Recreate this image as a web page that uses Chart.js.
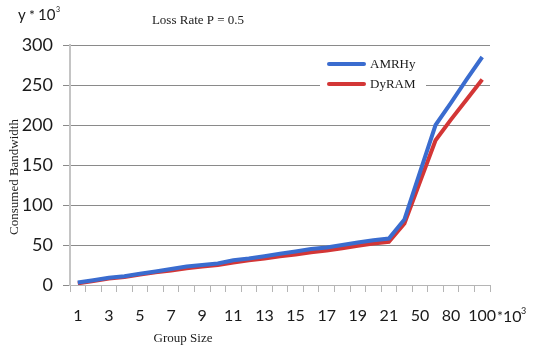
<!DOCTYPE html>
<html>
<head>
<meta charset="utf-8">
<script src="https://cdn.jsdelivr.net/npm/chart.js@4/dist/chart.umd.min.js"></script>
<style>
  html, body { margin: 0; padding: 0; background: #fff; }
  #wrap { position: relative; width: 534px; height: 351px; }
</style>
</head>
<body>
<div id="wrap"><canvas id="chart" width="534" height="351"></canvas></div>
<script>
// group sizes (x 10^3); only every other one gets a label
const groupSizes = ["1", "2", "3", "4", "5", "6", "7", "8", "9", "10", "11", "12", "13", "14",
  "15", "16", "17", "18", "19", "20", "21", "30", "50", "60", "80", "90", "100"];
const amrhy = [3, 6, 9, 11, 14, 17, 20, 23, 25, 27, 31, 33, 36, 39, 42, 45, 47, 50, 53, 56, 58,
  82, 141, 200, 228, 257, 285];
const dyram = [2, 5, 8, 10, 13, 16, 18, 21, 23, 25, 28, 31, 33, 36, 38, 41, 43, 46, 49, 52, 54,
  77, 129, 181, 207, 232, 257];
const yTicks = [0, 50, 100, 150, 200, 250, 300];

const serif = '"Liberation Serif", "DejaVu Serif", serif';
const sans = 'Lato, "Open Sans", sans-serif';
const ink = "#1a1a1a";

// extra texts and the boxed legend, drawn straight onto the canvas
const decorations = {
  id: "decorations",
  afterDraw(chart) {
    const ctx = chart.ctx;
    const area = chart.chartArea;
    ctx.save();
    ctx.fillStyle = ink;
    ctx.textBaseline = "middle";

    // y unit
    ctx.textAlign = "left";
    ctx.font = "15px " + sans;
    ctx.fillText("y", 18, 15);
    ctx.font = "14px " + sans;
    ctx.fillText("*", 29, 15);
    ctx.font = "15px " + sans;
    ctx.fillText("10", 38, 15);
    ctx.font = "7px " + sans;
    ctx.fillText("3", 56, 10);

    // title
    ctx.font = "13px " + serif;
    ctx.textAlign = "center";
    ctx.fillText("Loss Rate P = 0.5", 198, 21);

    // axis titles
    ctx.fillText("Group Size", 183, 339);
    ctx.save();
    ctx.translate(15, 177);
    ctx.rotate(-Math.PI / 2);
    ctx.fillText("Consumed Bandwidth", 0, 0);
    ctx.restore();

    // x unit after the last tick label
    ctx.textAlign = "left";
    ctx.font = "14px " + sans;
    ctx.fillText("*", area.right + 7, 316);
    ctx.font = "16px " + sans;
    ctx.fillText("10", area.right + 13, 317);
    ctx.font = "9px " + sans;
    ctx.fillText("3", area.right + 31, 311);

    // legend
    ctx.fillStyle = "#fff";
    ctx.fillRect(320, 54, 106, 42);
    ctx.font = "13px " + serif;
    ctx.lineCap = "round";
    chart.data.datasets.forEach((ds, i) => {
      const y = 64 + i * 20;
      ctx.strokeStyle = ds.borderColor;
      ctx.lineWidth = 4;
      ctx.beginPath();
      ctx.moveTo(329, y);
      ctx.lineTo(364, y);
      ctx.stroke();
      ctx.fillStyle = ink;
      ctx.fillText(ds.label, 370, y + 1);
    });
    ctx.restore();
  }
};

new Chart(document.getElementById("chart"), {
  type: "line",
  data: {
    labels: groupSizes,
    datasets: [
      {
        label: "AMRHy",
        data: amrhy,
        borderColor: "#3a6ccf",
        borderWidth: 4,
        pointRadius: 0,
        tension: 0
      },
      {
        label: "DyRAM",
        data: dyram,
        borderColor: "#d33636",
        borderWidth: 4,
        pointRadius: 0,
        tension: 0
      }
    ]
  },
  options: {
    responsive: false,
    animation: false,
    devicePixelRatio: 1,
    layout: { padding: { left: 0, right: 44, top: 45, bottom: 0 } },
    plugins: {
      legend: { display: false },
      tooltip: { enabled: false }
    },
    scales: {
      x: {
        type: "category",
        offset: true,
        afterFit: (scale) => { scale.height = 66; },
        grid: {
          offset: true,
          drawOnChartArea: false,
          color: "#b5b5b5",
          tickLength: 7
        },
        border: { color: "#b5b5b5", width: 1 },
        ticks: {
          autoSkip: false,
          maxRotation: 0,
          padding: 14,
          color: ink,
          font: { family: sans, size: 16 },
          callback: (val, i) => (i % 2 === 0 ? groupSizes[i] : "")
        }
      },
      y: {
        min: 0,
        max: 300,
        afterFit: (scale) => { scale.width = 70; },
        afterBuildTicks: (scale) => { scale.ticks = yTicks.map((v) => ({ value: v })); },
        grid: { color: "#8a8a8a", lineWidth: 1, tickLength: 7 },
        border: { color: "#c4c4c4", width: 2 },
        ticks: {
          padding: 10,
          color: ink,
          font: { family: sans, size: 18 }
        }
      }
    }
  },
  plugins: [decorations]
});
</script>
</body>
</html>
